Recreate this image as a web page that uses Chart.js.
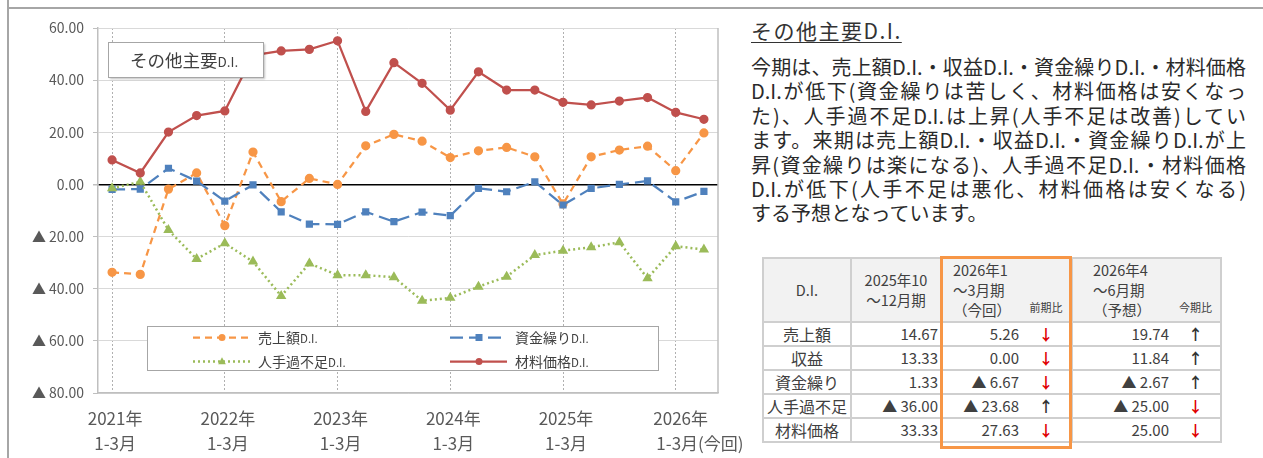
<!DOCTYPE html>
<html lang="ja">
<head>
<meta charset="utf-8">
<script src="https://cdn.jsdelivr.net/npm/chart.js@4.4.1/dist/chart.umd.min.js"></script>
<style>
html,body{margin:0;padding:0;background:#fff;}
body{width:1263px;height:458px;position:relative;overflow:hidden;font-family:"Noto Sans CJK JP","Noto Sans",sans-serif;}
#frameTop{position:absolute;left:7px;top:7px;width:1256px;height:2px;background:#a6a6a6;}
#frameLeft{position:absolute;left:7px;top:0;width:2px;height:458px;background:#a6a6a6;}
#chartBox{position:absolute;left:0;top:0;width:750px;height:458px;}
#heading{position:absolute;left:751px;top:17px;font-size:21px;line-height:26px;letter-spacing:1.5px;color:#333;text-decoration:underline;text-underline-offset:3px;text-decoration-thickness:1px;white-space:nowrap;}
#body{position:absolute;left:751px;top:55px;width:495px;color:#2a2a2a;font-size:20px;}
.ln{line-height:24.4px;height:24.4px;text-align:justify;text-align-last:justify;}
.ln.last{text-align:left;text-align-last:left;}
#tbl{position:absolute;left:762px;top:257px;border-collapse:collapse;table-layout:fixed;color:#404040;}
#tbl td,#tbl th{border:2px solid #cfcfcf;padding:0;font-weight:normal;}
#tbl th{background:#f2f2f2;font-size:14.5px;line-height:20px;height:58px;}
#tbl td{height:22px;font-size:15px;line-height:22px;background:#fff;}
#tbl .lab{text-align:center;font-size:16px;}
#tbl .val{text-align:right;padding-right:2px;}
#tbl .arr{text-align:center;border-left:hidden;font-weight:bold;}
#tbl th.arr{font-size:11px;font-weight:normal;vertical-align:bottom;padding-bottom:4px;}
#tbl th.q{text-align:left;vertical-align:middle;}
.down{color:#e00000;}
.up{color:#333;}
#orangeBox{position:absolute;left:940px;top:256px;width:132px;height:193px;border:3px solid #F79646;box-sizing:border-box;pointer-events:none;}
</style>
</head>
<body>
<div id="frameTop"></div>
<div id="frameLeft"></div>
<div id="chartBox"><canvas id="c" width="750" height="458"></canvas></div>

<div id="heading">その他主要D.I.</div>
<div id="body">
<div class="ln">今期は、売上額D.I.・収益D.I.・資金繰りD.I.・材料価格</div>
<div class="ln">D.I.が低下(資金繰りは苦しく、材料価格は安くなっ</div>
<div class="ln">た)、人手過不足D.I.は上昇(人手不足は改善)してい</div>
<div class="ln">ます。来期は売上額D.I.・収益D.I.・資金繰りD.I.が上</div>
<div class="ln">昇(資金繰りは楽になる)、人手過不足D.I.・材料価格</div>
<div class="ln">D.I.が低下(人手不足は悪化、材料価格は安くなる)</div>
<div class="ln last">する予想となっています。</div>
</div>

<table id="tbl">
<colgroup><col style="width:88px"><col style="width:90px"><col style="width:80px"><col style="width:51px"><col style="width:99px"><col style="width:50px"></colgroup>
<thead>
<tr>
<th>D.I.</th>
<th>2025年10<br>～12月期</th>
<th class="q" style="padding-left:11px">2026年1<br>～3月期<br>（今回）</th>
<th class="arr">前期比</th>
<th class="q" style="padding-left:20px">2026年4<br>～6月期<br>（予想）</th>
<th class="arr">今期比</th>
</tr>
</thead>
<tbody id="tb"></tbody>
</table>
<div id="orangeBox"></div>

<script>
// ---- data ----
const quarters = ['2021Q1','2021Q2','2021Q3','2021Q4','2022Q1','2022Q2','2022Q3','2022Q4',
  '2023Q1','2023Q2','2023Q3','2023Q4','2024Q1','2024Q2','2024Q3','2024Q4',
  '2025Q1','2025Q2','2025Q3','2025Q4','2026Q1','2026Q2'];
const yearLabels = ['2021年','2022年','2023年','2024年','2025年','2026年'];
const subLabels = ['1-3月','1-3月','1-3月','1-3月','1-3月','1-3月(今回)'];
const seriesNames = ['売上額D.I.','資金繰りD.I.','人手過不足D.I.','材料価格D.I.'];
const salesDI    = [-33.7,-34.5,-1.8,4.4,-15.8,12.4,-6.6,2.3,0.0,14.8,19.2,16.6,10.3,12.9,14.2,10.6,-7.5,10.6,13.2,14.67,5.26,19.74];
const fundingDI  = [-1.9,-1.8,6.2,1.3,-6.4,-0.2,-10.5,-15.2,-15.3,-10.5,-14.3,-10.6,-12.0,-1.5,-2.8,1.0,-7.9,-1.5,0.0,1.33,-6.67,-2.67];
const laborDI    = [-1.5,1.0,-17.5,-28.6,-22.6,-29.6,-42.8,-30.3,-34.8,-34.8,-35.6,-44.6,-43.5,-39.2,-35.4,-27.1,-25.4,-24.1,-22.2,-36.00,-23.68,-25.00];
const materialDI = [9.4,4.4,20.1,26.4,28.2,49.5,51.2,51.8,55.1,28.0,46.7,38.8,28.5,43.2,36.2,36.2,31.5,30.5,32.0,33.33,27.63,25.00];
const yTicks = [60,40,20,0,-20,-40,-60,-80];

// table data
const tableRows = ['売上額','収益','資金繰り','人手過不足','材料価格'];
const prevQ = [14.67,13.33,1.33,-36.00,33.33];
const curQ  = [5.26,0.00,-6.67,-23.68,27.63];
const nextQ = [19.74,11.84,-2.67,-25.00,25.00];

// ---- table ----
function fmt(v){ return v < 0 ? '▲ ' + Math.abs(v).toFixed(2) : v.toFixed(2); }
function arrow(a,b){ return b > a ? '<span class="up">↑</span>' : '<span class="down">↓</span>'; }
const tb = document.getElementById('tb');
tableRows.forEach((name,i)=>{
  const tr = document.createElement('tr');
  tr.innerHTML = '<td class="lab">'+name+'</td><td class="val">'+fmt(prevQ[i])+'</td><td class="val">'+fmt(curQ[i])+
    '</td><td class="arr">'+arrow(prevQ[i],curQ[i])+'</td><td class="val">'+fmt(nextQ[i])+'</td><td class="arr">'+arrow(curQ[i],nextQ[i])+'</td>';
  tb.appendChild(tr);
});

// ---- chart ----
const FONT = '"Noto Sans CJK JP","Noto Sans",sans-serif';
function drawMarker(ctx, style, x, y, r, color){
  ctx.fillStyle = color; ctx.strokeStyle = color; ctx.lineWidth = 1;
  ctx.beginPath();
  if (style === 'rect') { ctx.rect(x-r, y-r, 2*r, 2*r); }
  else if (style === 'triangle') { ctx.moveTo(x, y-r*1.2); ctx.lineTo(x+r*1.1, y+r*0.8); ctx.lineTo(x-r*1.1, y+r*0.8); ctx.closePath(); }
  else { ctx.arc(x, y, r, 0, Math.PI*2); }
  ctx.fill();
}
const overlay = {
  id: 'overlay',
  beforeDatasetsDraw(chart){
    const {ctx, chartArea:a} = chart;
    ctx.save();
    ctx.strokeStyle = '#bfbfbf'; ctx.lineWidth = 1.5;
    ctx.beginPath(); ctx.moveTo(a.right, a.top); ctx.lineTo(a.right, a.bottom); ctx.stroke();
    ctx.restore();
  },
  afterDatasetsDraw(chart){
    const ctx = chart.ctx;
    // title box
    ctx.save();
    ctx.shadowColor = 'rgba(0,0,0,0.25)'; ctx.shadowBlur = 2; ctx.shadowOffsetX = 1; ctx.shadowOffsetY = 1;
    ctx.fillStyle = '#fff'; ctx.fillRect(108.5, 42.5, 155, 35);
    ctx.shadowColor = 'transparent';
    ctx.strokeStyle = '#a6a6a6'; ctx.lineWidth = 1; ctx.strokeRect(108.5, 42.5, 155, 35);
    ctx.fillStyle = '#404040'; ctx.textBaseline = 'middle'; ctx.textAlign = 'left';
    ctx.font = '17.5px ' + FONT; ctx.fillText('その他主要', 130, 60.5);
    const w = ctx.measureText('その他主要').width;
    ctx.font = '13.5px ' + FONT; ctx.fillText('D.I.', 130 + w, 61.5);
    ctx.restore();
    // legend box
    ctx.save();
    ctx.fillStyle = '#fff'; ctx.fillRect(147.5, 326.5, 511, 44);
    ctx.strokeStyle = '#a6a6a6'; ctx.lineWidth = 1; ctx.strokeRect(147.5, 326.5, 511, 44);
    const pos = [[193,337.5],[450,337.5],[193,361.5],[450,361.5]];
    chart.data.datasets.forEach((ds,i)=>{
      const [x,y] = pos[i];
      ctx.save();
      ctx.strokeStyle = ds.borderColor; ctx.lineWidth = ds.borderWidth; ctx.setLineDash(ds.borderDash || []);
      ctx.lineCap = ds.borderCapStyle || 'butt';
      ctx.beginPath(); ctx.moveTo(x, y); ctx.lineTo(x+57, y); ctx.stroke();
      ctx.setLineDash([]);
      drawMarker(ctx, ds.pointStyle, x+29, y, ds.pointRadius, ds.borderColor);
      ctx.fillStyle = '#404040'; ctx.textBaseline = 'middle'; ctx.textAlign = 'left';
      const name = ds.label.replace('D.I.','');
      ctx.font = '14px ' + FONT; ctx.fillText(name, x+65, y);
      const nw = ctx.measureText(name).width;
      ctx.font = '11.5px ' + FONT; ctx.fillText('D.I.', x+65+nw, y+1);
      ctx.restore();
    });
    ctx.restore();
  }
};

new Chart(document.getElementById('c'), {
  type: 'line',
  data: {
    labels: quarters,
    datasets: [
      {label: seriesNames[0], data: salesDI, borderColor:'#F79646', backgroundColor:'#F79646', borderWidth:2.25, borderDash:[7,5],
       pointStyle:'circle', pointRadius:3.5, pointBackgroundColor:'#F79646', pointBorderColor:'#F79646', order:4},
      {label: seriesNames[1], data: fundingDI, borderColor:'#4F81BD', backgroundColor:'#4F81BD', borderWidth:2.25, borderDash:[13,6],
       pointStyle:'rect', pointRadius:3.5, pointBackgroundColor:'#4F81BD', pointBorderColor:'#4F81BD', order:3},
      {label: seriesNames[2], data: laborDI, borderColor:'#9BBB59', backgroundColor:'#9BBB59', borderWidth:2.5, borderDash:[2,3],
       pointStyle:'triangle', pointRadius:3.5, pointBackgroundColor:'#9BBB59', pointBorderColor:'#9BBB59', order:2},
      {label: seriesNames[3], data: materialDI, borderColor:'#C0504D', backgroundColor:'#C0504D', borderWidth:2.25,
       pointStyle:'circle', pointRadius:3.5, pointBackgroundColor:'#C0504D', pointBorderColor:'#C0504D', order:1}
    ]
  },
  options: {
    responsive: false,
    animation: false,
    layout: {padding: {top: 28, right: 32, left: 0, bottom: 0}},
    plugins: {legend: {display:false}, tooltip: {enabled:false}, title:{display:false}},
    elements: {line: {tension: 0}},
    scales: {
      x: {
        type: 'category',
        offset: true,
        grid: {offset:false, drawTicks:false, lineWidth:1,
               color: (c)=> (c.index % 4 === 0 ? '#b0b0b0' : 'rgba(0,0,0,0)')},
        border: {display:true, color:'#bfbfbf', width:1.5, dash:[2,2]},
        ticks: {
          autoSkip:false, maxRotation:0, minRotation:0, padding:13, labelOffset:3, color:'#595959',
          font:{family:FONT, size:17, lineHeight:1.47},
          callback: (v, i) => {
            if (i % 4 !== 0) return '';
            const k = i / 4;
            if (k === yearLabels.length - 1) return [' ' + yearLabels[k], '\u3000\u3000\u2002' + subLabels[k]];
            return [yearLabels[k], subLabels[k]];
          }
        },
        afterFit: (s) => { s.height = 65; }
      },
      y: {
        min: -80, max: 60,
        afterBuildTicks: (s) => { s.ticks = yTicks.map(v => ({value: v})); },
        grid: {tickLength:5, drawTicks:true,
               color: (c)=> (c.tick && c.tick.value === 0 ? '#000000' : '#d9d9d9'),
               lineWidth: (c)=> (c.tick && c.tick.value === 0 ? 1.5 : 1),
               tickColor:'#bfbfbf'},
        border: {display:true, color:'#bfbfbf', width:1.5},
        ticks: {padding:9, color:'#595959', font:{family:FONT, size:14},
                callback: (v) => (v < 0 ? '▲ ' + Math.abs(v).toFixed(2) : v.toFixed(2))},
        afterFit: (s) => { s.width = 98; }
      }
    }
  },
  plugins: [overlay]
});
</script>
</body>
</html>
